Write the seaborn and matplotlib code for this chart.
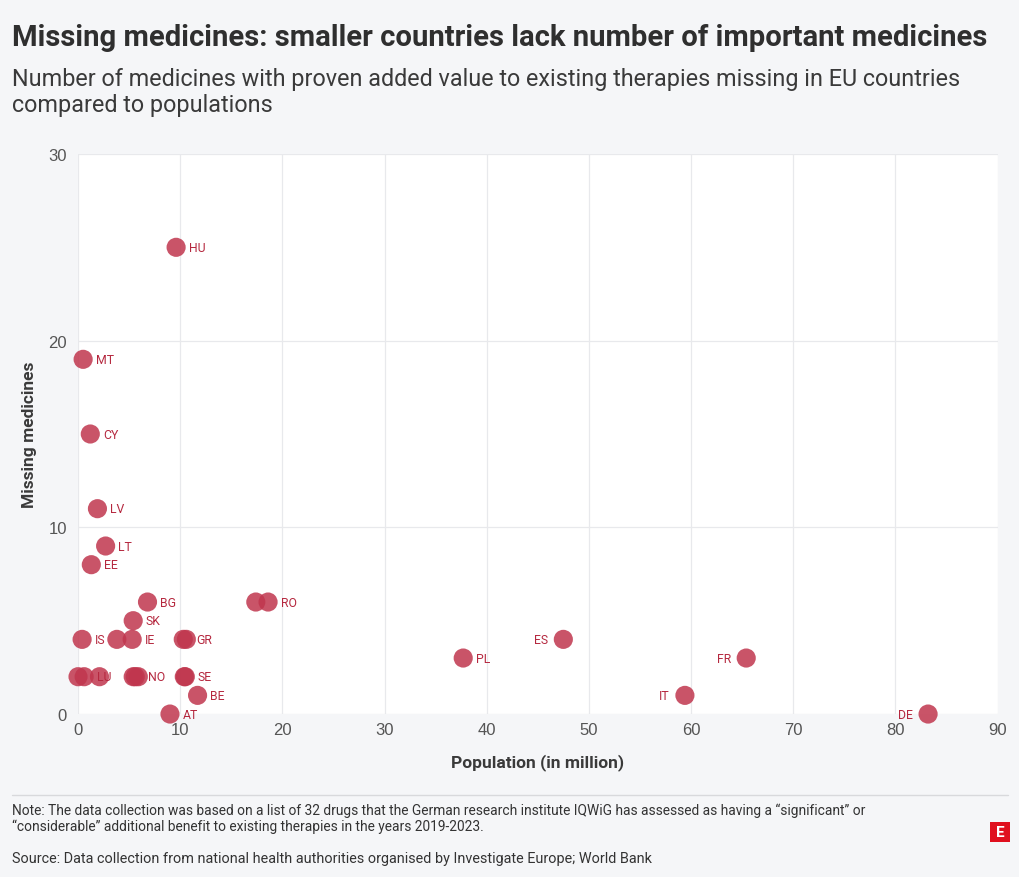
import matplotlib
matplotlib.use("Agg")
import matplotlib.pyplot as plt
import seaborn as sns
import pandas as pd
from matplotlib.patches import Rectangle
from matplotlib.lines import Line2D

codes = ["HU", "MT", "CY", "LV", "LT", "EE", "BG", "NL", "RO", "SK", "IS", "HR", "IE",
         "GR", "PT", "LI", "LU", "SI", "FI", "NO", "DK", "CZ", "SE", "BE", "AT",
         "PL", "ES", "FR", "IT", "DE"]
labels = ["HU", "MT", "CY", "LV", "LT", "EE", "BG", "", "RO", "SK", "IS", "", "IE",
          "GR", "", "", "LU", "", "", "NO", "", "", "SE", "BE", "AT",
          "PL", "ES", "FR", "IT", "DE"]
population = [9.6, 0.5, 1.2, 1.9, 2.7, 1.3, 6.8, 17.4, 18.6, 5.4, 0.4, 3.8, 5.3,
              10.3, 10.6, 0.0, 0.6, 2.1, 5.4, 5.6, 5.9, 10.4, 10.5, 11.7, 9.0,
              37.7, 47.5, 65.4, 59.4, 83.2]
missing = [25, 19, 15, 11, 9, 8, 6, 6, 6, 5, 4, 4, 4,
           4, 4, 2, 2, 2, 2, 2, 2, 2, 2, 1, 0,
           3, 4, 3, 1, 0]
label_left = ["ES", "FR", "IT", "DE"]

df = pd.DataFrame({"code": codes, "label": labels,
                   "population": population, "missing": missing})

sns.set_theme(style="whitegrid")
plt.rcParams['font.family'] = ['Roboto', 'DejaVu Sans']

BG = "#f5f6f8"
fig = plt.figure(figsize=(10.2, 8.78), dpi=100, facecolor=BG)
ax = fig.add_axes([0.0765, 0.1856, 0.9015, 0.6379])
ax.set_facecolor("white")

sns.scatterplot(data=df, x="population", y="missing", ax=ax, s=190,
                color="#c0364e", alpha=0.85, edgecolor="none", linewidth=0,
                clip_on=False, zorder=3)

for _, r in df.iterrows():
    if not r["label"]:
        continue
    if r["label"] in label_left:
        ax.annotate(r["label"], (r["population"], r["missing"]), xytext=(-11, 0),
                    textcoords="offset points", ha="right", va="center",
                    fontsize=8.8, color="#b5283f", zorder=4, annotation_clip=False)
    else:
        ax.annotate(r["label"], (r["population"], r["missing"]), xytext=(9, 0),
                    textcoords="offset points", ha="left", va="center",
                    fontsize=8.8, color="#b5283f", zorder=4, annotation_clip=False)

ax.set_xlim(0, 90)
ax.set_ylim(0, 30)
ax.set_xticks(range(0, 91, 10))
ax.set_yticks([0, 10, 20, 30])
ax.grid(True, color="#e8e9ec", linewidth=0.9)
for sp in ax.spines.values():
    sp.set_visible(False)
ax.tick_params(axis="both", length=0, labelsize=12, colors="#555555", pad=6)
ax.tick_params(axis="y", pad=8)
for t in ax.get_xticklabels() + ax.get_yticklabels():
    t.set_fontfamily(["Liberation Sans", "DejaVu Sans"])
ax.set_xlabel("Population (in million)", fontsize=12.5, fontweight="bold",
              color="#3a3a3a", labelpad=11)
ax.set_ylabel("Missing medicines", fontsize=12.5, fontweight="bold",
              color="#3a3a3a", labelpad=8)

fig.text(0.012, 0.957, "Missing medicines: smaller countries lack number of important medicines",
         fontsize=21.1, fontweight="bold", color="#2f2f2f", ha="left", va="center")
fig.text(0.012, 0.910, "Number of medicines with proven added value to existing therapies missing in EU countries",
         fontsize=16.8, color="#3a3a3a", ha="left", va="center")
fig.text(0.012, 0.880, "compared to populations",
         fontsize=16.8, color="#3a3a3a", ha="left", va="center")

fig.add_artist(Line2D([0.012, 0.988], [0.0935, 0.0935], transform=fig.transFigure,
                      color="#d8d9dc", linewidth=1))
fig.text(0.012, 0.0765, "Note: The data collection was based on a list of 32 drugs that the German research institute IQWiG has assessed as having a \u201csignificant\u201d or",
         fontsize=9.95, color="#333333", ha="left", va="center")
fig.text(0.012, 0.0585, "\u201cconsiderable\u201d additional benefit to existing therapies in the years 2019-2023.",
         fontsize=9.95, color="#333333", ha="left", va="center")
fig.text(0.012, 0.0215, "Source: Data collection from national health authorities organised by Investigate Europe; World Bank",
         fontsize=10.4, color="#333333", ha="left", va="center")

fig.add_artist(Rectangle((0.9706, 0.0398), 0.0196, 0.0228, transform=fig.transFigure,
                         facecolor="#e0101e", edgecolor="none"))
fig.text(0.9804, 0.0512, "E", fontsize=11, fontweight="bold", color="white",
         ha="center", va="center")

fig.savefig("out.png", dpi=100, facecolor=BG)
